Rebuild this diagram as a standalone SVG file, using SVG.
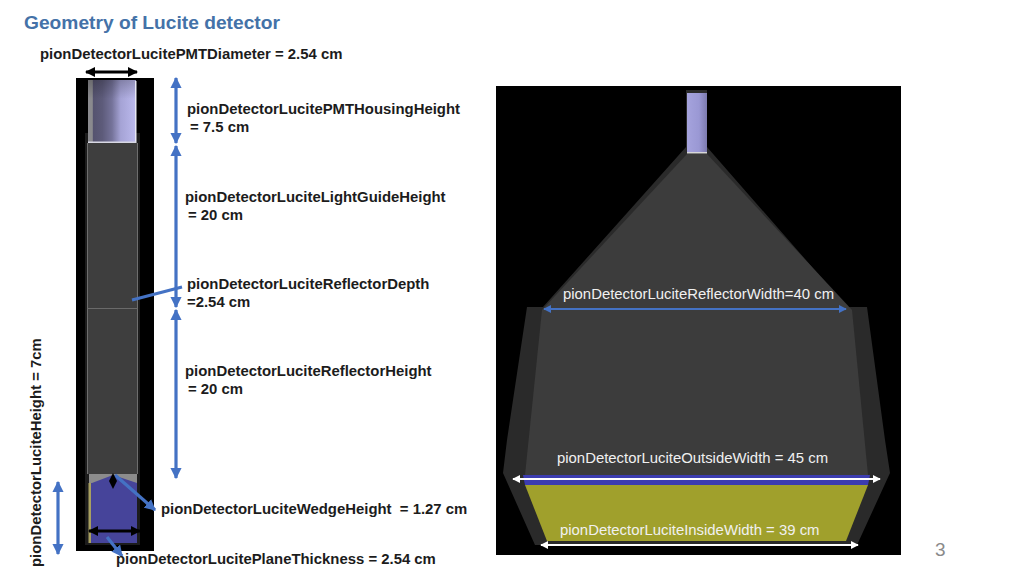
<svg xmlns="http://www.w3.org/2000/svg" width="1024" height="576" viewBox="0 0 1024 576">
<style>
text{font-family:"Liberation Sans",Arial,sans-serif}
.b{font-weight:700;font-size:14.9px;fill:#1c1c1c;white-space:pre}
.w{font-size:14.9px;fill:#f0f0f0}
.bl{stroke:#4472c4;stroke-width:3.200;fill:none}
.bk{stroke:#000;stroke-width:3;fill:none}
.wl{stroke:#fff;stroke-width:2;fill:none}
.bt{stroke:#4472c4;stroke-width:2;fill:none}
</style>
<defs>
<linearGradient id="pmt" x1="0" x2="1" y1="0" y2="0">
<stop offset="0" stop-color="#8a8a8e"/><stop offset=".09" stop-color="#8a8a8e"/><stop offset=".11" stop-color="#55536f"/><stop offset=".3" stop-color="#5d5b7a"/><stop offset=".5" stop-color="#75739a"/><stop offset=".68" stop-color="#a5a3d5"/><stop offset="1" stop-color="#bcbaee"/>
</linearGradient>
<linearGradient id="pmtv" x1="0" x2="0" y1="0" y2="1">
<stop offset="0" stop-color="#000" stop-opacity=".22"/><stop offset=".3" stop-color="#000" stop-opacity="0"/><stop offset="1" stop-color="#000" stop-opacity="0"/>
</linearGradient>
<linearGradient id="tube" x1="0" x2="1" y1="0" y2="0">
<stop offset="0" stop-color="#a5a3dd"/><stop offset=".6" stop-color="#9a98d4"/><stop offset="1" stop-color="#7c7aae"/>
</linearGradient>
<marker id="hb" viewBox="0 0 10 10" refX="9" refY="5" markerWidth="3.500" markerHeight="3.500" orient="auto-start-reverse"><path d="M0 0L10 5L0 10Z" fill="#4472c4"/></marker>
<marker id="hbs" viewBox="0 0 10 10" refX="9" refY="5" markerWidth="4" markerHeight="4" orient="auto-start-reverse"><path d="M0 0L10 5L0 10Z" fill="#4472c4"/></marker>
<marker id="hk" viewBox="0 0 10 10" refX="9" refY="5" markerWidth="3.400" markerHeight="3.400" orient="auto-start-reverse"><path d="M0 0L10 5L0 10Z" fill="#000"/></marker>
<marker id="hw" viewBox="0 0 10 10" refX="9" refY="5" markerWidth="4" markerHeight="4" orient="auto-start-reverse"><path d="M0 0L10 5L0 10Z" fill="#fff"/></marker>
</defs>
<rect width="1024" height="576" fill="#fff"/>
<text x="24" y="29" font-size="19.200" font-weight="700" fill="#4472a8">Geometry of Lucite detector</text>

<g id="side-view">
<rect x="76" y="78" width="78" height="473" fill="#000"/>
<rect x="85" y="133" width="55" height="412" fill="#1c1c1c"/>
<rect x="88" y="80" width="48" height="63" fill="url(#pmt)"/>
<rect x="88" y="80" width="48" height="63" fill="url(#pmtv)"/>
<rect x="135" y="81" width="1.500" height="62" fill="#e8e8f4"/>
<rect x="88" y="141.500" width="48" height="1.500" fill="#d8d8e4"/>
<rect x="87" y="143" width="51" height="331" fill="#3e3e3e"/>
<path d="M87.500 143V474M137.500 143V474" stroke="#6e6e6e" stroke-width="1" fill="none"/>
<path d="M87 308.500H138" stroke="#6a6a6a" stroke-width="1"/>
<path d="M90 474H137V543H90Z" fill="#46449a"/>
<path d="M89 474H137V483L113 475L92 483H89Z" fill="#8c8c8c"/>
<rect x="88.500" y="483" width="2.500" height="60" fill="#a8a060"/>
</g>

<g id="top-view">
<rect x="496" y="86" width="405" height="469" fill="#000"/>
<path d="M686 90H707V147L847 307H867L885 440L890 473L857 545H535L503 473L507 440L527 307H543L686 147Z" fill="#2a2a2a"/>
<path d="M687 154H707L852 310L868 475H525L542 310Z" fill="#3c3c3c"/>
<rect x="687" y="93" width="20" height="60" fill="url(#tube)"/>
<rect x="687" y="152" width="20" height="1.500" fill="#d8d8d8"/>
<path d="M523 475H870L868 485H525Z" fill="#3c3cb0"/>
<path d="M525 485H868L846 541H547Z" fill="#a0a02c"/>
</g>

<g id="connectors">
<path class="bk" d="M86 72H137" marker-start="url(#hk)" marker-end="url(#hk)"/>
<path class="bl" d="M176 78V143" marker-start="url(#hb)" marker-end="url(#hb)"/>
<path class="bl" d="M176 146V307" marker-start="url(#hb)" marker-end="url(#hb)"/>
<path class="bl" d="M176 310V478" marker-start="url(#hb)" marker-end="url(#hb)"/>
<path class="bl" d="M132 300L182 287"/>
<path class="bl" d="M58 482V554" marker-start="url(#hb)" marker-end="url(#hb)"/>
<path class="bl" d="M115 475L155 510" marker-end="url(#hb)"/>
<path class="bl" d="M107 537L122 556" marker-end="url(#hb)"/>
<path d="M113 473L117 481L113 489L109 481Z" fill="#000"/>
<path class="bk" d="M89 531H140" marker-start="url(#hk)" marker-end="url(#hk)"/>
<path class="bt" d="M544 309H846" marker-start="url(#hbs)" marker-end="url(#hbs)"/>
<path class="wl" d="M513 479H880" marker-start="url(#hw)" marker-end="url(#hw)"/>
<path class="wl" d="M541 545H858" marker-start="url(#hw)" marker-end="url(#hw)"/>
</g>

<g id="labels">
<text class="b" x="40" y="59">pionDetectorLucitePMTDiameter = 2.54 cm</text>
<text class="b" x="187" y="114">pionDetectorLucitePMTHousingHeight</text>
<text class="b" x="190" y="132">= 7.5 cm</text>
<text class="b" x="185" y="202">pionDetectorLuciteLightGuideHeight</text>
<text class="b" x="188" y="220">= 20 cm</text>
<text class="b" x="187" y="289">pionDetectorLuciteReflectorDepth</text>
<text class="b" x="187" y="307">=2.54 cm</text>
<text class="b" x="185" y="376">pionDetectorLuciteReflectorHeight</text>
<text class="b" x="188" y="394">= 20 cm</text>
<text class="b" x="161" y="514">pionDetectorLuciteWedgeHeight  = 1.27 cm</text>
<text class="b" x="116" y="564">pionDetectorLucitePlaneThickness = 2.54 cm</text>
<text class="b" transform="translate(41 567) rotate(-90)">pionDetectorLuciteHeight = 7cm</text>
<text class="w" x="563" y="299">pionDetectorLuciteReflectorWidth=40 cm</text>
<text class="w" x="557" y="463">pionDetectorLuciteOutsideWidth = 45 cm</text>
<text class="w" x="560" y="535">pionDetectorLuciteInsideWidth = 39 cm</text>
<text x="935" y="556" font-size="19" fill="#8a8a8a">3</text>
</g>
</svg>
